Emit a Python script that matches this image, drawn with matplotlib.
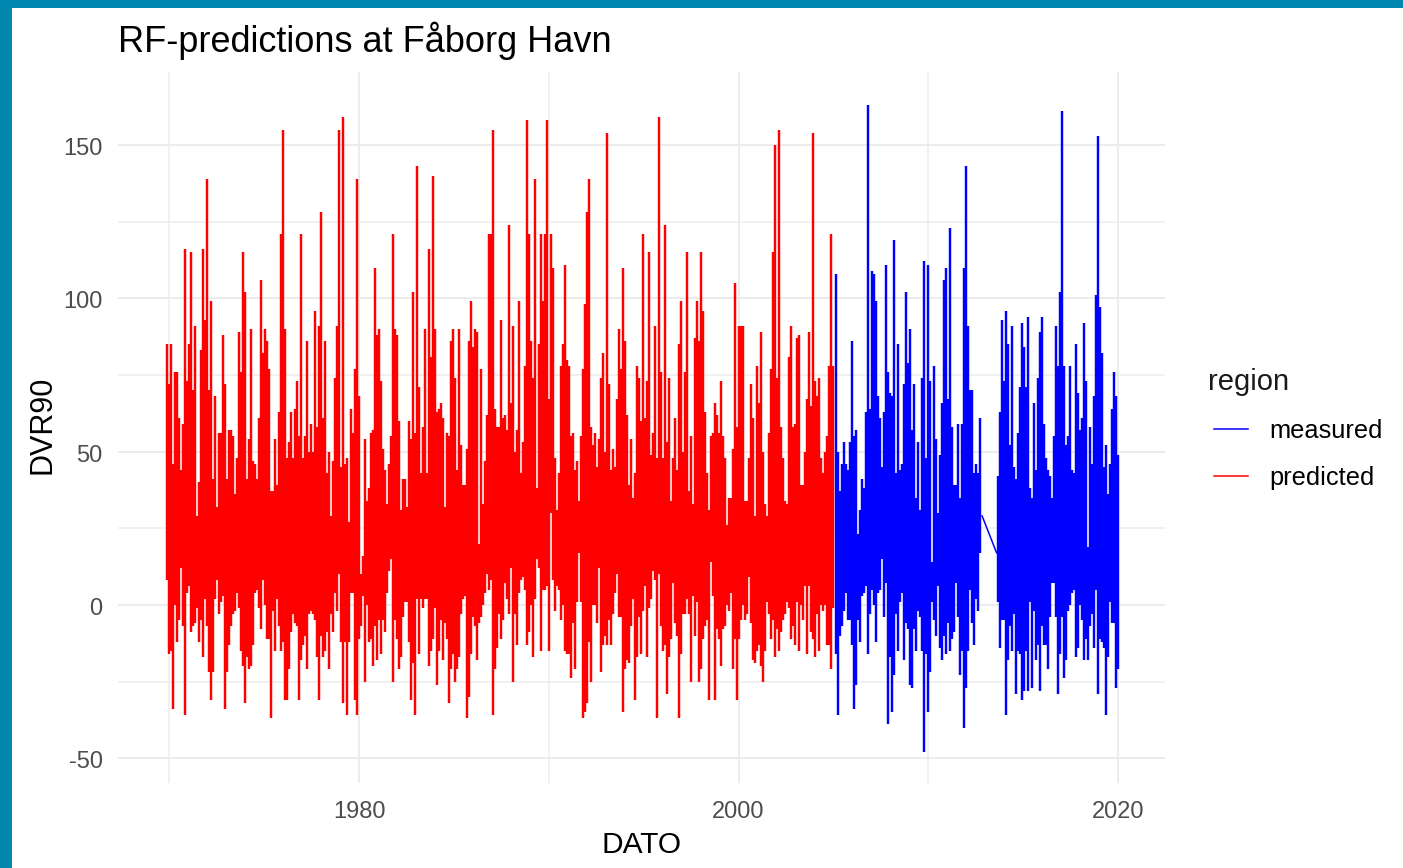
import numpy as np
import matplotlib
matplotlib.use('Agg')
import matplotlib.pyplot as plt
from matplotlib.lines import Line2D
from matplotlib.patches import Rectangle
from matplotlib.transforms import ScaledTranslation

# high and low of the series per plotted column
pred_high = [85,72,85,46,76,76,61,44,59,116,73,85,115,70,91,29,40,83,116,93,
             139,70,99,41,68,32,56,56,88,72,41,57,57,55,36,48,89,76,115,102,
             41,54,90,47,46,41,61,106,82,90,86,77,37,37,54,39,63,121,155,90,
             48,53,63,48,64,73,55,121,48,55,86,50,59,50,96,58,91,128,61,86,
             43,50,29,47,74,91,155,45,159,46,48,27,64,56,77,139,68,10,16,54,
             34,38,56,57,110,88,90,73,51,44,33,46,55,121,90,88,60,31,41,41,
             32,60,54,102,56,143,71,43,58,90,43,116,81,140,90,63,64,66,61,32,
             56,55,86,90,74,44,90,52,39,39,51,86,99,84,90,89,20,77,33,47,
             62,121,121,155,64,58,58,93,61,62,57,124,
             66,91,50,57,99,43,53,78,158,121,86,74,139,38,85,121,99,121,158,67,
             121,110,48,31,43,78,85,111,80,78,55,56,44,47,34,55,77,98,128,139,
             58,52,56,45,54,74,82,50,154,72,44,51,45,67,90,77,110,86,62,39,
             54,35,43,78,74,60,121,61,73,115,49,56,91,48,159,76,48,124,53,74,
             34,48,61,44,85,99,50,76,115,37,55,33,87,99,86,115,96,63,43,31,
             55,56,66,62,56,73,55,48,26,35,35,51,105,58,91,91,91,34,34,48,
             72,61,29,78,66,89,50,33,29,56,77,115,150,74,155,58,48,34,33,81,
             91,58,59,87,88,39,39,50,67,89,65,154,73,68,74,48,43,50,55,78,121,78]
pred_low = [8,-16,-15,-34,0,-12,-5,12,-7,-36,4,6,-9,-7,-6,-1,-12,-5,-17,2,
            -7,-22,-31,-22,2,8,-3,1,3,-34,-22,-13,-7,-3,-2,4,-1,-15,-20,-32,
            -17,-21,-20,-13,4,5,-1,-8,8,0,-11,-11,-37,-2,-15,2,-7,-15,-12,-31,
            -31,-21,-9,-3,-6,-7,-31,-18,-13,-10,-21,-3,-2,-3,-5,-17,-31,-10,-17,-15,
            -9,-21,-3,-9,4,-2,10,-12,-32,-12,-36,-12,4,4,-31,-36,-11,-7,3,-25,
            0,-12,-11,-20,-7,-18,-5,-16,-5,-9,4,11,15,-25,-5,-11,-21,-17,-4,1,
            1,-12,-31,-19,-36,2,-16,2,-1,2,2,-20,-15,-11,-1,-26,-15,-5,-18,-6,
            -11,-32,-21,-16,-25,-21,-17,-3,2,3,-37,-30,-16,-4,-7,-18,-6,-4,0,4,
            10,5,8,-36,-21,-14,-3,-11,-5,7,2,-3,
            12,-25,-3,-13,4,8,9,5,-13,-9,0,-17,2,15,12,-15,5,5,6,-15,
            30,8,-2,6,5,-5,0,-15,-16,-16,-24,-6,-21,1,17,1,-37,-35,-32,-12,
            -25,0,0,-6,12,-22,-13,-10,-13,-5,-13,-3,4,10,-4,-4,-35,-21,-18,-19,
            -7,2,-31,-17,-4,-16,-2,6,-17,-1,2,11,8,-37,10,-7,-15,-13,-29,-17,
            -11,7,-6,-10,-37,-16,-3,-3,2,-3,-25,3,-10,1,-25,-21,-11,-7,-5,-31,
            14,3,-31,-8,-11,-20,-8,-7,0,-2,4,-21,-11,-31,-11,-5,0,-5,-3,9,
            -6,-18,-19,-15,-13,-20,-25,-15,1,-3,-11,-5,-17,-8,-15,-9,-5,-3,1,-1,
            -11,-7,-13,1,-15,0,-5,6,-16,6,-9,-11,-17,-3,-15,0,-2,0,-13,-13,-21,-1]

# measured part, before and after the hole around 2013
meas_high_a = [108,50,37,46,53,46,44,53,86,55,57,23,31,41,38,63,163,64,109,108,
               99,68,61,45,63,111,76,69,68,119,43,85,44,46,72,102,79,90,57,72,
               35,53,31,74,112,48,111,73,14,78,54,30,49,66,106,110,67,123,58,39,
               39,59,35,59,110,143,91,70,70,43,46,43,61]
meas_low_a = [-16,-36,-10,-7,-2,4,-5,-5,-13,-34,-26,-5,-12,3,4,6,-16,-3,5,0,
              -12,4,5,15,-4,7,-39,-17,-35,-23,-3,-15,1,4,-18,-6,-8,-26,-27,-8,
              -15,-2,-4,-15,-48,-16,-35,-22,1,-5,-10,6,-14,-18,-10,-16,-6,-15,-11,-9,
              7,-4,-23,-15,-40,-27,-15,5,-6,-13,2,-2,17]
meas_high_b = [42,63,93,73,96,85,52,91,45,41,56,71,92,84,71,94,38,35,66,44,
               74,89,94,59,48,44,42,35,55,91,78,102,161,78,52,55,78,44,43,85,
               69,57,61,92,73,19,58,46,68,101,153,97,82,45,52,36,46,64,76,68,49]
meas_low_b = [1,-14,-5,-5,-36,-18,-7,-15,-3,-29,-15,-16,-31,-28,-15,-28,1,-27,-2,-18,
              -13,-28,-7,-13,-13,-21,-4,7,7,-4,-29,-16,-4,-24,-18,-2,0,4,5,-17,
              -14,0,-5,-18,-11,-18,-7,-3,-14,5,-29,-11,-12,-14,-36,-17,1,-6,-6,-27,-21]
gap_years = [2012.84, 2013.60]
gap_values = [29, 17]

pred_start = 1969.86
meas_a_start = 2005.14
meas_b_start = 2013.68
year_step = 0.1054

x_ticks = [1980, 2000, 2020]
x_minor = [1970, 1990, 2010]
y_ticks = [-50, 0, 50, 100, 150]
y_minor = [-25, 25, 75, 125]

W, H = 1403, 868
plt.rcParams['font.family'] = ['Liberation Sans', 'DejaVu Sans']
plt.rcParams['axes.unicode_minus'] = False

fig = plt.figure(figsize=(W / 100, H / 100), dpi=100, facecolor='#0087AF')
fig.patches.append(Rectangle((12 / W, 0), 1 - 12 / W, 1 - 8 / H, transform=fig.transFigure,
                             facecolor='white', edgecolor='none', zorder=-5))
ax = fig.add_axes([118 / W, 1 - 783 / H, (1165 - 118) / W, (783 - 72) / H])
ax.patch.set_alpha(0)

LW = 1.75
pred_years = pred_start + year_step * np.arange(len(pred_high))
ax.vlines(pred_years, pred_low, pred_high, color='#FF0000', lw=LW, zorder=3)
meas_a_years = meas_a_start + year_step * np.arange(len(meas_high_a))
ax.vlines(meas_a_years, meas_low_a, meas_high_a, color='#0000FF', lw=LW, zorder=4)
meas_b_years = meas_b_start + year_step * np.arange(len(meas_high_b))
ax.vlines(meas_b_years, meas_low_b, meas_high_b, color='#0000FF', lw=LW, zorder=4)
ax.plot(gap_years, gap_values, color='#0000FF', lw=1.1, zorder=4)

ax.set_xlim(1967.29, 2022.48)
ax.set_ylim(-58.1, 173.8)
ax.set_xticks(x_ticks)
ax.set_xticks(x_minor, minor=True)
ax.set_yticks(y_ticks)
ax.set_yticks(y_minor, minor=True)
ax.grid(which='major', color='#EBEBEB', lw=1.3, zorder=0)
ax.grid(which='minor', color='#EDEDED', lw=1.1, zorder=0)
ax.set_axisbelow(True)
for s in ax.spines.values():
    s.set_visible(False)
ax.tick_params(which='both', length=0)
ax.tick_params(axis='x', which='major', labelsize=17, labelcolor='#4D4D4D', pad=12.7)
ax.tick_params(axis='y', which='major', labelsize=17, labelcolor='#4D4D4D', pad=11)
# y labels sit a little under their gridlines in the original
shift = ScaledTranslation(0, -1.7 / 100, fig.dpi_scale_trans)
for lbl in ax.get_yticklabels():
    lbl.set_transform(lbl.get_transform() + shift)

ax.set_title('RF-predictions at Fåborg Havn', loc='left', fontsize=26, pad=14.7)
ax.set_xlabel('DATO', fontsize=21.5, labelpad=5.8)
ax.set_ylabel('DVR90', fontsize=22, labelpad=4)
ax.yaxis.label.set_y(0.5 + 3 / 711)

handles = [Line2D([], [], color='#0000FF', lw=1.1), Line2D([], [], color='#FF0000', lw=1.1)]
leg = fig.legend(handles, ['measured', 'predicted'], title='region', frameon=False,
                 fontsize=18.3, title_fontsize=21, alignment='left',
                 handlelength=1.36, handletextpad=0.82, labelspacing=0.9,
                 loc='upper left', bbox_to_anchor=(1191 / W, 1 - 345 / H))
leg.get_title().set_color('#1a1a1a')
leg.get_title().set_position((-6, 0))

fig.savefig('out.png', dpi=100, facecolor=fig.get_facecolor())
